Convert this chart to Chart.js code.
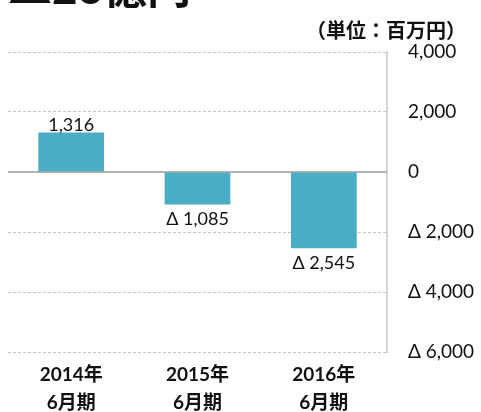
<!DOCTYPE html>
<html>
<head>
<meta charset="utf-8">
<script src="https://cdn.jsdelivr.net/npm/chart.js@4/dist/chart.umd.min.js"></script>
<style>
  html, body { margin: 0; padding: 0; background: #fff; }
  #wrap { width: 481px; height: 412px; position: relative; overflow: hidden; }
</style>
</head>
<body>
<div id="wrap"><canvas id="chart" width="481" height="412"></canvas></div>
<script>
let categories = [['2014年', '6月期'], ['2015年', '6月期'], ['2016年', '6月期']];
let profit = [1316, -1085, -2545];
let headline = '▲26億円';
let unitText = '（単位：百万円）';

let fontFamily = "Lato, 'Noto Sans CJK JP', sans-serif";

function fmt(v) {
    let s = Math.abs(v).toLocaleString('en-US');
    return v < 0 ? 'Δ ' + s : s;
}

// zero line, value labels, unit note and the cut-off headline
let extras = {
    id: 'extras',
    beforeDatasetsDraw(chart) {
        let ctx = chart.ctx;
        let area = chart.chartArea;
        let y0 = chart.scales.y.getPixelForValue(0);
        ctx.save();
        ctx.strokeStyle = '#b4b4b4';
        ctx.lineWidth = 2;
        ctx.beginPath();
        ctx.moveTo(area.left, y0);
        ctx.lineTo(area.right, y0);
        ctx.stroke();
        ctx.restore();
    },
    afterDatasetsDraw(chart) {
        let ctx = chart.ctx;
        ctx.save();
        ctx.fillStyle = '#111';
        ctx.textAlign = 'center';
        ctx.textBaseline = 'middle';
        ctx.font = "18px " + fontFamily;
        chart.getDatasetMeta(0).data.forEach(function (bar, i) {
            let v = profit[i];
            let y = v >= 0 ? bar.y - 7 : bar.y + 15;
            ctx.fillText(fmt(v), bar.x, y);
        });

        ctx.font = "bold 20px " + fontFamily;
        ctx.textAlign = 'right';
        ctx.fillText(unitText, 466, 32);

        ctx.font = "bold 44px " + fontFamily;
        ctx.textAlign = 'left';
        ctx.textBaseline = 'alphabetic';
        ctx.fillText(headline, 8, 4);
        ctx.restore();
    }
};

let chart = new Chart(document.getElementById('chart'), {
    type: 'bar',
    data: {
        labels: categories,
        datasets: [{
            data: profit,
            backgroundColor: '#4BACC6',
            borderWidth: 0,
            categoryPercentage: 1,
            barPercentage: 0.52
        }]
    },
    options: {
        responsive: false,
        animation: false,
        layout: { padding: { top: 52, left: 8, right: 0, bottom: 0 } },
        plugins: { legend: { display: false }, tooltip: { enabled: false } },
        scales: {
            x: {
                grid: { display: false, drawTicks: false },
                border: { display: false },
                ticks: {
                    color: '#111',
                    padding: 9,
                    maxRotation: 0,
                    font: { family: fontFamily, size: 19, weight: 'bold', lineHeight: 1.47 }
                },
                afterFit(scale) { scale.height = 60; }
            },
            y: {
                position: 'right',
                min: -6000,
                max: 4000,
                grid: {
                    drawTicks: false,
                    color: function (c) { return c.tick && c.tick.value === 0 ? 'rgba(0,0,0,0)' : '#c4c4c4'; },
                    lineWidth: 1
                },
                border: { display: true, color: '#d4d4d4', width: 2, dash: [3, 2] },
                ticks: {
                    stepSize: 2000,
                    padding: 21,
                    color: '#111',
                    font: { family: fontFamily, size: 19 },
                    callback: function (v) { return fmt(v); }
                },
                afterFit(scale) { scale.width = 94; }
            }
        }
    },
    plugins: [extras]
});
</script>
</body>
</html>
